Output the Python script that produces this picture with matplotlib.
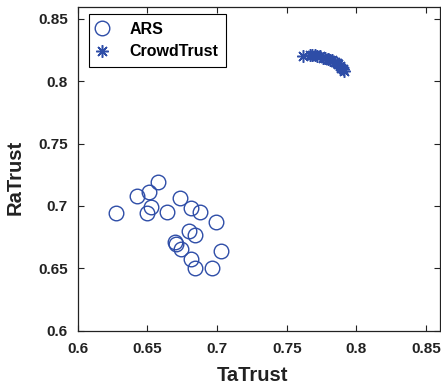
import matplotlib
matplotlib.use("Agg")
import matplotlib.pyplot as plt

# ARS points
ars_x = [0.6272, 0.6423, 0.6514, 0.6573, 0.6528, 0.6499, 0.6642, 0.6731, 0.6815, 0.6879,
         0.6991, 0.6796, 0.6841, 0.6702, 0.6707, 0.6741, 0.7030, 0.6815, 0.6841, 0.6963]
ars_y = [0.6947, 0.7083, 0.7113, 0.7191, 0.6995, 0.6942, 0.6955, 0.7065, 0.6982, 0.6953,
         0.6867, 0.6802, 0.6770, 0.6712, 0.6696, 0.6656, 0.6642, 0.6570, 0.6501, 0.6503]

# CrowdTrust points
ct_x = [0.7617, 0.7665, 0.7680, 0.7701, 0.7720, 0.7737, 0.7760, 0.7773, 0.7797, 0.7810,
        0.7821, 0.7845, 0.7860, 0.7868, 0.7880, 0.7890, 0.7900, 0.7909]
ct_y = [0.8205, 0.8213, 0.8210, 0.8207, 0.8203, 0.8199, 0.8190, 0.8186, 0.8178, 0.8172,
        0.8167, 0.8154, 0.8145, 0.8140, 0.8119, 0.8110, 0.8098, 0.8079]

ticks = [0.6, 0.65, 0.7, 0.75, 0.8, 0.85]
tick_labels = ["0.6", "0.65", "0.7", "0.75", "0.8", "0.85"]

blue = "#2E4DA7"
plt.rcParams['font.family'] = ['Liberation Sans', 'DejaVu Sans']
plt.rcParams['font.weight'] = 'bold'

fig = plt.figure(figsize=(4.41, 3.83), dpi=100)
ax = fig.add_axes([0.176, 0.137, 0.822, 0.846])

ax.plot(ars_x, ars_y, linestyle='none', marker='o', markersize=10.5,
        markerfacecolor='none', markeredgecolor=blue, markeredgewidth=1.0, label='ARS')
ax.plot(ct_x, ct_y, linestyle='none', marker=(8, 2, 0), markersize=9,
        color=blue, markeredgewidth=1.1, label='CrowdTrust')

ax.set_xlim(0.6, 0.86)
ax.set_ylim(0.6, 0.86)
ax.set_xticks(ticks)
ax.set_xticklabels(tick_labels)
ax.set_yticks(ticks)
ax.set_yticklabels(tick_labels)
ax.tick_params(direction='in', top=True, right=True, labelsize=11, length=4, width=0.8,
               colors='#222222')
ax.tick_params(axis='x', pad=8)
ax.tick_params(axis='y', pad=7)
for s in ax.spines.values():
    s.set_linewidth(0.9)
    s.set_color('#222222')

ax.set_xlabel('TaTrust', fontsize=14.5, fontweight='bold', color='#222222')
ax.set_ylabel('RaTrust', fontsize=14.5, fontweight='bold', color='#222222')
ax.xaxis.set_label_coords(0.481, -0.108)
ax.yaxis.set_label_coords(-0.145, 0.474)

leg = ax.legend(loc='upper left', bbox_to_anchor=(0.031, 0.977), fontsize=11.5,
                fancybox=False, edgecolor='black', framealpha=1, borderpad=0.5,
                handlelength=0.6, handletextpad=1.45, labelspacing=0.45,
                borderaxespad=0)
leg.get_frame().set_linewidth(0.8)

fig.savefig('out.png', dpi=100)
